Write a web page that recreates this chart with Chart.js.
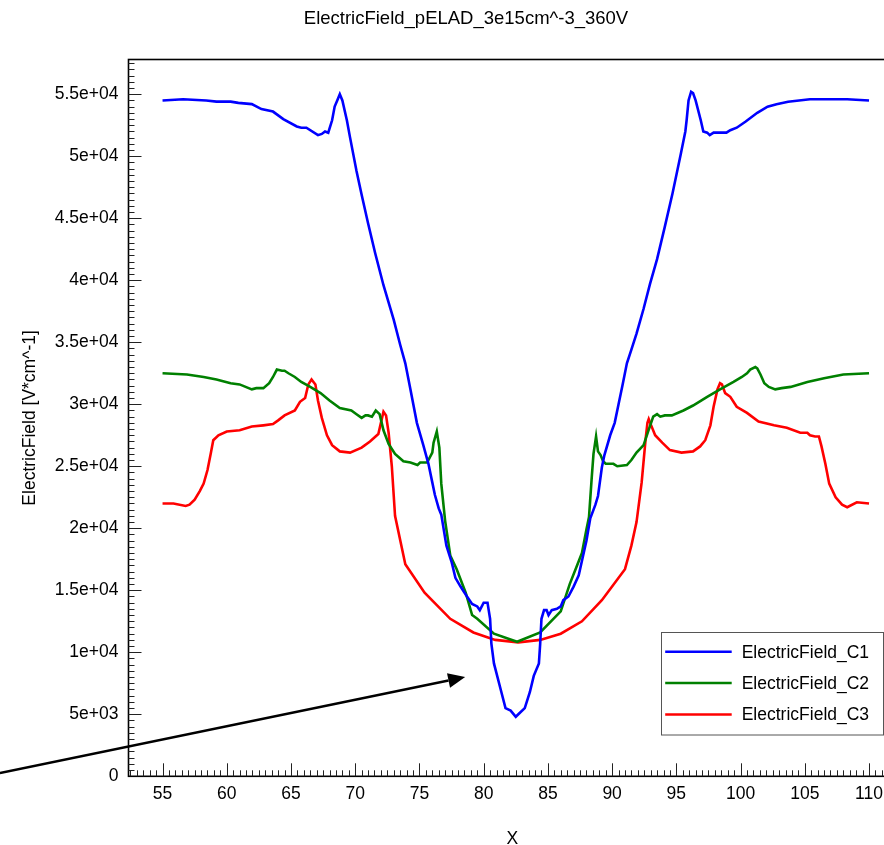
<!DOCTYPE html>
<html lang="en">
<head>
    <meta charset="UTF-8">
    <title>ElectricField_pELAD_3e15cm^-3_360V</title>
    <script src="https://cdn.jsdelivr.net/npm/chart.js"></script>
    <style>
        body {
            margin: 0;
            overflow: hidden;
            background: #fff;
        }
    </style>
</head>
<body>
    <canvas id="fieldChart" width="932" height="845"></canvas>

    <script>
        // cut-line data, field in V/cm
        const c1X = [55.0, 56.6, 58.4, 59.2, 60.3, 60.9, 61.95, 62.7, 63.6, 64.4, 65.45, 65.8, 66.2, 67.1, 67.4, 67.65, 67.9, 68.2, 68.4, 68.6, 68.8, 69.0, 69.35, 69.6, 70.1, 70.5, 71.0, 71.55, 72.2, 73.0, 73.5, 73.9, 74.3, 74.8, 75.3, 75.7, 76.0, 76.2, 76.5, 76.7, 77.1, 77.5, 77.8, 78.2, 78.7, 79.1, 79.5, 79.7, 80.0, 80.3, 80.5, 80.6, 80.8, 81.3, 81.7, 82.1, 82.5, 82.8, 83.2, 83.6, 83.9, 84.3, 84.4, 84.5, 84.7, 84.9, 85.05, 85.3, 85.7, 86.0, 86.2, 86.6, 87.0, 87.4, 87.7, 88.0, 88.3, 88.7, 88.9, 89.2, 89.4, 89.85, 90.2, 90.5, 90.8, 91.15, 91.5, 91.9, 92.45, 92.95, 93.5, 94.1, 94.7, 95.35, 95.7, 95.8, 95.95, 96.15, 96.3, 96.5, 96.9, 97.1, 97.4, 97.6, 97.9, 98.3, 98.9, 99.2, 99.7, 100.4, 101.3, 102.1, 102.8, 103.7, 105.4, 106.7, 108.3, 110.0];
        const c1Y = [54500, 54600, 54500, 54400, 54400, 54300, 54200, 53800, 53600, 53000, 52400, 52300, 52300, 51700, 51800, 52000, 51900, 52900, 54000, 54500, 55000, 54500, 52900, 51500, 48800, 46900, 44600, 42200, 39600, 36800, 34800, 33300, 31200, 28500, 26700, 25200, 23700, 22700, 21600, 21100, 18600, 17300, 16000, 15300, 14500, 13900, 13700, 13400, 14000, 14000, 12700, 10700, 9100, 7100, 5500, 5300, 4800, 5100, 5500, 6800, 8100, 9100, 10700, 12700, 13400, 13400, 13000, 13400, 13500, 13700, 14200, 14500, 15300, 16200, 17600, 19000, 20800, 21900, 22600, 24900, 25900, 27500, 28500, 30000, 31500, 33300, 34400, 35700, 37700, 39700, 41700, 44300, 47000, 50200, 52000, 52900, 54500, 55200, 55100, 54500, 52900, 52000, 51900, 51700, 51900, 51900, 51900, 52100, 52300, 52800, 53500, 54000, 54200, 54400, 54600, 54600, 54600, 54500];

        const c2X = [55.0, 56.9, 58.2, 59.2, 60.3, 61.0, 61.95, 62.3, 62.85, 63.3, 63.6, 63.9, 64.3, 64.5, 64.8, 65.3, 65.8, 66.5, 67.3, 68.0, 68.8, 69.7, 70.1, 70.5, 70.8, 71.0, 71.3, 71.6, 71.9, 72.2, 72.6, 73.1, 73.75, 74.3, 74.85, 75.05, 75.6, 76.0, 76.1, 76.35, 76.55, 76.7, 77.0, 77.4, 77.9, 78.6, 79.1, 79.5, 80.8, 82.6, 84.4, 86.0, 86.7, 87.65, 88.0, 88.2, 88.4, 88.55, 88.75, 88.9, 89.1, 89.3, 89.5, 90.1, 90.4, 91.15, 91.5, 91.9, 92.45, 92.8, 93.2, 93.5, 93.75, 94.1, 94.65, 95.55, 96.3, 97.4, 98.4, 99.45, 100.1, 100.5, 100.75, 101.15, 101.3, 101.55, 101.85, 102.2, 102.7, 103.2, 103.9, 105.2, 106.5, 108.0, 110.0];
        const c2Y = [32500, 32400, 32200, 32000, 31700, 31600, 31200, 31300, 31300, 31700, 32200, 32800, 32700, 32700, 32500, 32200, 31800, 31400, 30900, 30300, 29700, 29500, 29200, 28900, 29100, 29100, 29000, 29500, 29200, 27900, 26800, 26000, 25400, 25300, 25100, 25300, 25300, 26100, 26900, 27800, 26500, 23600, 20600, 17800, 16700, 14800, 13000, 12700, 11500, 10850, 11600, 13300, 15500, 18000, 19900, 20900, 23900, 26000, 27400, 26200, 25900, 25400, 25200, 25200, 25000, 25100, 25500, 26100, 26700, 27800, 29000, 29200, 29000, 29100, 29100, 29500, 29900, 30600, 31200, 31800, 32200, 32500, 32800, 33000, 32900, 32400, 31700, 31400, 31200, 31300, 31400, 31800, 32100, 32400, 32500];

        const c3X = [55.0, 55.85, 56.8, 57.1, 57.5, 57.9, 58.2, 58.5, 58.75, 58.95, 59.35, 60.0, 61.0, 61.95, 62.85, 63.6, 64.0, 64.5, 65.3, 65.7, 66.1, 66.35, 66.6, 66.9, 67.1, 67.4, 67.8, 68.2, 68.8, 69.6, 70.5, 71.15, 71.8, 72.0, 72.2, 72.4, 72.6, 72.85, 73.1, 73.9, 75.4, 77.4, 79.2, 80.9, 82.7, 84.4, 86.0, 87.65, 89.2, 91.0, 91.5, 91.9, 92.3, 92.6, 92.75, 92.85, 93.0, 93.35, 93.9, 94.5, 95.4, 96.3, 96.85, 97.25, 97.65, 97.9, 98.2, 98.4, 98.55, 98.8, 99.2, 99.7, 100.5, 101.4, 102.6, 103.6, 104.65, 105.2, 105.4, 105.8, 106.1, 106.3, 106.6, 106.9, 107.4, 107.9, 108.3, 109.05, 110.0];
        const c3Y = [22000, 22000, 21800, 21900, 22300, 23000, 23600, 24700, 26000, 27100, 27500, 27800, 27900, 28200, 28300, 28400, 28700, 29100, 29500, 30200, 30500, 31600, 32000, 31600, 30300, 28900, 27500, 26700, 26200, 26100, 26500, 27000, 27600, 28500, 29400, 29100, 27700, 25000, 21000, 17100, 14800, 12700, 11600, 11000, 10800, 11000, 11500, 12500, 14200, 16700, 18600, 20500, 23700, 27100, 28500, 28800, 28400, 27500, 26900, 26300, 26100, 26200, 26600, 27100, 28300, 29800, 31200, 31700, 31600, 30900, 30600, 29800, 29300, 28600, 28300, 28100, 27700, 27700, 27500, 27400, 27400, 26600, 25200, 23600, 22500, 21900, 21700, 22100, 22000];

        const seriesNames = ['ElectricField_C1', 'ElectricField_C2', 'ElectricField_C3'];
        const seriesColors = ['#0000ff', '#008000', '#ff0000'];

        const xTicks = [55, 60, 65, 70, 75, 80, 85, 90, 95, 100, 105, 110];
        const yTicks = [0, 5000, 10000, 15000, 20000, 25000, 30000, 35000, 40000, 45000, 50000, 55000];
        const yTickLabels = ['0', '5e+03', '1e+04', '1.5e+04', '2e+04', '2.5e+04', '3e+04', '3.5e+04', '4e+04', '4.5e+04', '5e+04', '5.5e+04'];

        // arrow annotation (x, field) from tail to head
        const arrowFrom = [42.34, 270];
        const arrowTo = [78.56, 8000];

        const FONT = "'Liberation Sans', Arial, sans-serif";
        const FS = 17.5;

        function pts(xs, ys) {
            return xs.map(function(x, i) { return { x: x, y: ys[i] }; });
        }

        const decorPlugin = {
            id: 'decor',
            afterDraw(chart) {
                const ctx = chart.ctx;
                const area = chart.chartArea;
                const xs = chart.scales.x;
                const ys = chart.scales.y;
                ctx.save();

                // frame
                ctx.strokeStyle = '#000';
                ctx.lineWidth = 1.6;
                ctx.strokeRect(area.left, area.top, area.right - area.left, area.bottom - area.top);

                // inward tick marks
                ctx.lineWidth = 1;
                ctx.strokeStyle = '#222';
                ctx.beginPath();
                for (let v = 52.5; v <= xs.max; v += 0.5) {
                    const px = Math.round(xs.getPixelForValue(v)) + 0.5;
                    const len = Math.abs(v % 5) < 1e-6 ? 13 : 6;
                    ctx.moveTo(px, area.bottom);
                    ctx.lineTo(px, area.bottom - len);
                }
                for (let v = 500; v <= ys.max; v += 500) {
                    const py = Math.round(ys.getPixelForValue(v)) + 0.5;
                    const len = v % 5000 === 0 ? 13 : 6;
                    ctx.moveTo(area.left, py);
                    ctx.lineTo(area.left + len, py);
                }
                ctx.stroke();

                // arrow
                const ax0 = xs.getPixelForValue(arrowFrom[0]);
                const ay0 = ys.getPixelForValue(arrowFrom[1]);
                const ax1 = xs.getPixelForValue(arrowTo[0]);
                const ay1 = ys.getPixelForValue(arrowTo[1]);
                const ang = Math.atan2(ay1 - ay0, ax1 - ax0);
                const headLen = 17, headW = 7.5;
                const bx = ax1 - headLen * Math.cos(ang);
                const by = ay1 - headLen * Math.sin(ang);
                ctx.strokeStyle = '#000';
                ctx.lineWidth = 2.5;
                ctx.beginPath();
                ctx.moveTo(ax0, ay0);
                ctx.lineTo(bx, by);
                ctx.stroke();
                ctx.fillStyle = '#000';
                ctx.beginPath();
                ctx.moveTo(ax1, ay1);
                ctx.lineTo(bx + headW * Math.sin(ang), by - headW * Math.cos(ang));
                ctx.lineTo(bx - headW * Math.sin(ang), by + headW * Math.cos(ang));
                ctx.closePath();
                ctx.fill();

                // legend box
                const lw = 222, lh = 102.5;
                const lx = area.right - 13.3 - lw;
                const ly = area.bottom - 42 - lh;
                ctx.fillStyle = '#fff';
                ctx.fillRect(lx, ly, lw, lh);
                ctx.strokeStyle = '#555';
                ctx.lineWidth = 1;
                ctx.strokeRect(Math.round(lx) + 0.5, Math.round(ly) + 0.5, lw, lh);
                ctx.font = FS + 'px ' + FONT;
                ctx.textBaseline = 'middle';
                ctx.textAlign = 'left';
                chart.data.datasets.forEach(function(ds, i) {
                    const ry = ly + 20 + i * 31.3;
                    ctx.strokeStyle = ds.borderColor;
                    ctx.lineWidth = 2.5;
                    ctx.beginPath();
                    ctx.moveTo(lx + 4.5, ry);
                    ctx.lineTo(lx + 71, ry);
                    ctx.stroke();
                    ctx.fillStyle = '#000';
                    ctx.fillText(ds.label, lx + 81, ry + 1);
                });

                // titles
                ctx.fillStyle = '#000';
                ctx.textAlign = 'center';
                ctx.fillText('X', (area.left + area.right) / 2, 839);
                ctx.font = '18.5px ' + FONT;
                ctx.fillText('ElectricField_pELAD_3e15cm^-3_360V', chart.width / 2, 19);
                ctx.font = FS + 'px ' + FONT;
                ctx.translate(30, (area.top + area.bottom) / 2);
                ctx.rotate(-Math.PI / 2);
                ctx.fillText('ElectricField [V*cm^-1]', 0, 0);
                ctx.restore();
            }
        };

        Chart.defaults.font.family = FONT;
        Chart.defaults.font.size = FS;
        Chart.defaults.color = '#000';

        let ctx = document.getElementById('fieldChart').getContext('2d');
        let fieldChart = new Chart(ctx, {
            type: 'scatter',
            data: {
                datasets: [
                    { label: seriesNames[0], data: pts(c1X, c1Y), borderColor: seriesColors[0] },
                    { label: seriesNames[1], data: pts(c2X, c2Y), borderColor: seriesColors[1] },
                    { label: seriesNames[2], data: pts(c3X, c3Y), borderColor: seriesColors[2] }
                ].map(function(ds) {
                    return Object.assign(ds, {
                        showLine: true,
                        borderWidth: 2.6,
                        pointRadius: 0,
                        tension: 0,
                        fill: false
                    });
                })
            },
            options: {
                responsive: false,
                animation: false,
                devicePixelRatio: 1,
                layout: {
                    padding: { top: 59.5, right: 36, left: 0, bottom: 0 }
                },
                plugins: {
                    legend: { display: false },
                    title: { display: false },
                    tooltip: { enabled: false }
                },
                scales: {
                    x: {
                        type: 'linear',
                        min: 52.35,
                        max: 112.1,
                        grid: { display: false, drawTicks: false },
                        border: { display: false },
                        afterBuildTicks: function(scale) {
                            scale.ticks = xTicks.map(function(v) { return { value: v }; });
                        },
                        afterFit: function(scale) { scale.height = 68.7; },
                        ticks: {
                            padding: 7,
                            maxRotation: 0,
                            autoSkip: false
                        }
                    },
                    y: {
                        type: 'linear',
                        min: 0,
                        max: 57800,
                        grid: { display: false, drawTicks: false },
                        border: { display: false },
                        afterBuildTicks: function(scale) {
                            scale.ticks = yTicks.map(function(v) { return { value: v }; });
                        },
                        afterFit: function(scale) { scale.width = 128.5; },
                        ticks: {
                            padding: 10,
                            autoSkip: false,
                            callback: function(value, index) {
                                return yTickLabels[index];
                            }
                        }
                    }
                }
            },
            plugins: [decorPlugin]
        });
    </script>
</body>
</html>
